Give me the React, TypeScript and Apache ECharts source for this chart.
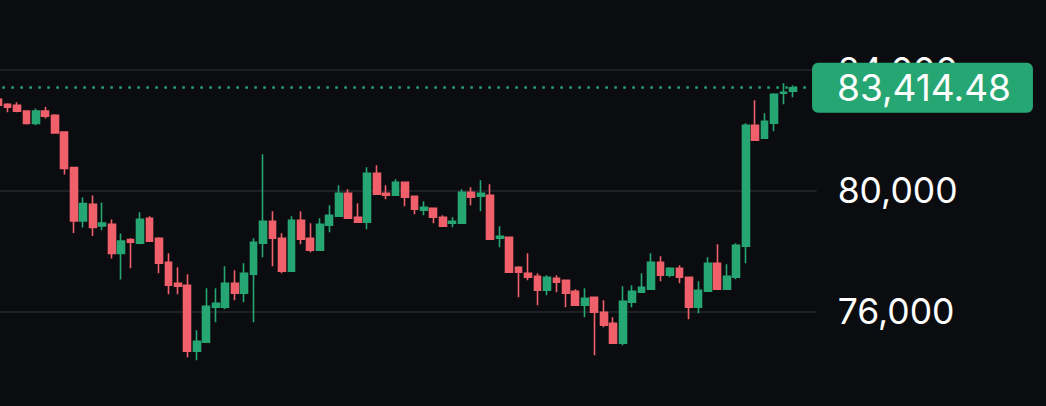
import React, { useEffect, useRef } from "react";
import * as echarts from "echarts";

// Candle values (price)
const opens = [
  83031, 82865, 82832, 82643, 82226, 82643, 82501, 81948, 80769, 79000,
  79553, 78834, 78890, 77920, 78383, 78261, 79089, 78427, 77631, 76936,
  76870, 74683, 74981, 76141, 76141, 76936, 76605, 77234, 78261, 78990,
  78427, 77333, 79023, 78427, 78029, 78857, 79155, 79917, 79122, 78957,
  80580, 79917, 79851, 80282, 79818, 79354, 79420, 79122, 78923, 78923,
  79950, 79818, 79851, 78427, 78460, 77466, 77267, 77168, 76704, 77102,
  77035, 76671, 76207, 76472, 75975, 75611, 74948, 76306, 76638, 76737,
  77631, 77201, 77433, 77135, 76141, 76671, 77598, 76737, 77135, 78161,
  82170, 81739, 82236, 83230, 83296,
];
const closes = [
  82832, 82766, 82634, 82226, 82643, 82468, 81915, 80735, 79000, 79576,
  78781, 78933, 77920, 78337, 78294, 79056, 78327, 77598, 76870, 76836,
  74683, 75015, 76174, 76273, 76936, 76605, 77267, 78294, 78990, 78427,
  77333, 79023, 78393, 78029, 78890, 79188, 79917, 79089, 78957, 80580,
  79884, 79851, 80282, 79785, 79387, 79453, 79122, 78824, 78990, 79950,
  79785, 79917, 78393, 78493, 77300, 77300, 77135, 76704, 77135, 76969,
  76605, 76207, 76439, 75975, 75545, 74948, 76340, 76671, 76803, 77631,
  77201, 77433, 77135, 76141, 76704, 77598, 76737, 77168, 78195, 82170,
  81673, 82302, 83197, 83263, 83414.48,
];
const lows = [
  82799, 82600, 82600, 82193, 82170, 82392, 81900, 80537, 78602, 78781,
  78503, 78692, 77754, 77058, 77433, 78228, 78300, 77267, 76571, 76571,
  74484, 74385, 74960, 75644, 76075, 76373, 76306, 75644, 77797, 77499,
  77267, 77320, 78228, 77963, 78010, 78625, 79130, 79070, 78940, 78725,
  79870, 79718, 79830, 79487, 79222, 79188, 78923, 78800, 78791, 78900,
  79520, 79321, 78370, 78128, 77280, 76472, 77035, 76207, 76538, 76638,
  76141, 76190, 75810, 74551, 75478, 74930, 74882, 76141, 76620, 76720,
  77002, 77135, 76936, 75743, 75942, 76650, 76720, 76720, 77068, 77598,
  81650, 81720, 81971, 82865, 83097,
];
const highs = [
  83064, 82899, 82932, 82667, 82723, 82776, 82534, 81971, 80780, 79775,
  79841, 79609, 79046, 78582, 78427, 79288, 79155, 78460, 77930, 77466,
  77234, 75379, 76770, 76770, 77499, 77366, 77598, 78427, 81209, 79321,
  78592, 79155, 79321, 78923, 79089, 79520, 80182, 80050, 79586, 80778,
  80845, 80182, 80381, 80300, 79840, 79652, 79440, 79188, 79122, 80050,
  80116, 80348, 80215, 78824, 78480, 77499, 77930, 77267, 77201, 77201,
  77060, 76737, 76770, 76490, 76373, 75810, 76836, 76870, 77267, 77930,
  77830, 77466, 77532, 77150, 77002, 77797, 78228, 77565, 78261, 82236,
  82998, 82567, 83230, 83561, 83495,
];
// two empty slots after the last candle
const emptySlots = 2;
const categories = Array.from({ length: opens.length + emptySlots }, (_, i) => `${i + 1}`);
// axis range and ticks; only the inner three labels are in view
const yTicks = [72000, 76000, 80000, 84000, 88000];
const lastPrice = closes[closes.length - 1];

const GREEN = "#26a673";
const RED = "#f0606b";
const BG = "#0b0c0f";

export default function App() {
  const ref = useRef<HTMLDivElement>(null);
  useEffect(() => {
    if (!ref.current) return;
    const chart = echarts.init(ref.current, undefined, { renderer: "svg" });
    const candles = opens.map((o, i) => [o, closes[i], lows[i], highs[i]]);
    chart.setOption({
      animation: false,
      backgroundColor: BG,
      grid: {
        left: -6.66,
        width: 823.3,
        top: -50.75,
        height: 483,
        containLabel: false,
        outerBoundsMode: "none",
      },
      xAxis: {
        type: "category",
        data: categories,
        axisLine: { show: false },
        axisTick: { show: false },
        axisLabel: { show: false },
        splitLine: { show: false },
      },
      yAxis: {
        type: "value",
        position: "right",
        min: yTicks[0],
        max: yTicks[yTicks.length - 1],
        interval: yTicks[1] - yTicks[0],
        axisLine: { show: false },
        axisTick: { show: false },
        splitLine: { show: true, lineStyle: { color: "#1f2024", width: 2 } },
        axisLabel: {
          margin: 21,
          color: "#ffffff",
          fontSize: 35.5,
          showMinLabel: false,
          showMaxLabel: false,
          fontFamily: "Inter, 'Noto Sans', sans-serif",
          formatter: (v: number) => v.toLocaleString("en-US"),
        },
      },
      series: [
        {
          type: "candlestick",
          data: candles,
          barWidth: 7.3,
          itemStyle: {
            color: GREEN,
            color0: RED,
            borderColor: GREEN,
            borderColor0: RED,
            borderWidth: 1.6,
          },
          markLine: {
            silent: true,
            symbol: ["none", "none"],
            data: [{ yAxis: lastPrice }],
            lineStyle: { color: GREEN, type: [2.5, 6.5], width: 2.5 },
            label: {
              show: true,
              position: "end",
              distance: -4.6,
              formatter: () =>
                lastPrice.toLocaleString("en-US", { minimumFractionDigits: 2, maximumFractionDigits: 2 }),
              color: "#ffffff",
              fontSize: 37,
              fontFamily: "Inter, 'Noto Sans', sans-serif",
              backgroundColor: GREEN,
              borderRadius: 6,
              lineHeight: 50,
              padding: [0, 22, 0, 25],
            },
          },
        },
      ],
    });
    return () => chart.dispose();
  }, []);
  return (
    <div
      ref={ref}
      style={{ position: "fixed", left: 0, top: 0, width: 1046, height: 406, background: BG }}
    />
  );
}
